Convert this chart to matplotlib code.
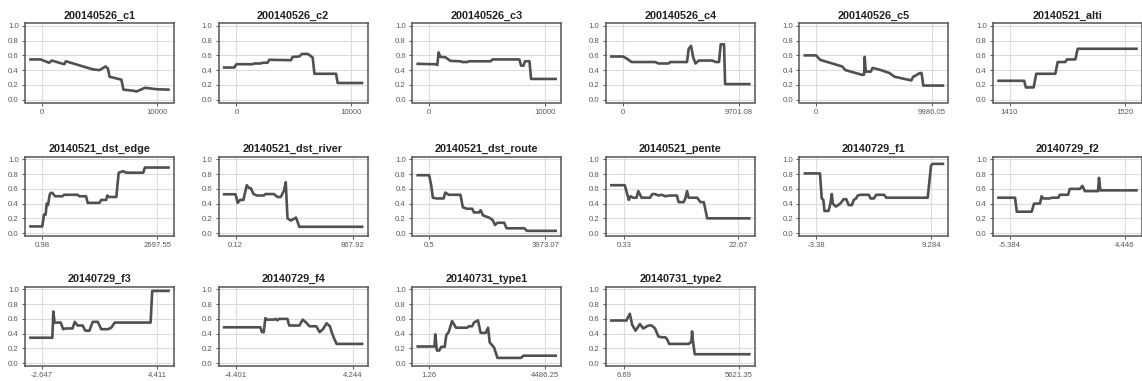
import matplotlib
matplotlib.use("Agg")
import matplotlib.pyplot as plt

plt.rcParams["font.family"] = ["Liberation Sans", "DejaVu Sans"]

TITLES = [
    "200140526_c1", "200140526_c2", "200140526_c3", "200140526_c4",
    "200140526_c5", "20140521_alti", "20140521_dst_edge", "20140521_dst_river",
    "20140521_dst_route", "20140521_pente", "20140729_f1", "20140729_f2",
    "20140729_f3", "20140729_f4", "20140731_type1", "20140731_type2",
]

# x tick values (low, high) and the labels printed for them
TICK_VALUES = [
    (0, 10000), (0, 10000), (0, 10000), (0, 9701.08), (0, 9986.05), (1410, 1520),
    (0.98, 2697.55), (0.12, 867.92), (0.5, 3973.07), (0.33, 22.67),
    (-3.38, 9.284), (-5.384, 4.446), (-2.647, 4.411), (-4.401, 4.244),
    (1.26, 4486.25), (6.69, 5621.35),
]
TICK_LABELS = [
    ("0", "10000"), ("0", "10000"), ("0", "10000"), ("0", "9701.08"),
    ("0", "9986.05"), ("1410", "1520"), ("0.98", "2697.55"), ("0.12", "867.92"),
    ("0.5", "3973.07"), ("0.33", "22.67"), ("-3.38", "9.284"), ("-5.384", "4.446"),
    ("-2.647", "4.411"), ("-4.401", "4.244"), ("1.26", "4486.25"), ("6.69", "5621.35"),
]

c1_x = [-970, -100, 640, 880, 1960, 2100, 4440, 5030, 5550, 5760, 5900, 6930, 7100,
        7950, 8250, 8980, 10000, 11020]
c1_y = [0.545, 0.545, 0.50, 0.53, 0.48, 0.52, 0.41, 0.40, 0.45, 0.42, 0.31, 0.27, 0.135,
        0.12, 0.11, 0.16, 0.14, 0.135]

c2_x = [-1080, -200, 0, 1400, 1550, 2130, 2270, 2710, 2860, 4750, 4900, 5480, 5710,
        6210, 6410, 6650, 6800, 8690, 8830, 10960]
c2_y = [0.435, 0.435, 0.48, 0.48, 0.49, 0.49, 0.50, 0.50, 0.54, 0.535, 0.58, 0.585, 0.62,
        0.62, 0.60, 0.57, 0.35, 0.35, 0.225, 0.225]

c3_x = [-990, 520, 700, 810, 960, 1390, 1830, 2700, 2840, 3280, 3420, 5300, 5450,
        7770, 7920, 8120, 8260, 8640, 8780, 10900]
c3_y = [0.485, 0.48, 0.47, 0.64, 0.58, 0.575, 0.525, 0.52, 0.51, 0.51, 0.52, 0.52, 0.545,
        0.545, 0.46, 0.46, 0.52, 0.52, 0.28, 0.28]

c4_x = [-990, 0, 370, 710, 2690, 2970, 3820, 3960, 5370, 5510, 5710, 5880, 6080, 6360,
        7490, 7780, 8060, 8200, 8480, 8570, 10600]
c4_y = [0.585, 0.585, 0.55, 0.51, 0.51, 0.49, 0.49, 0.51, 0.51, 0.69, 0.73, 0.58, 0.49,
        0.53, 0.53, 0.51, 0.51, 0.75, 0.75, 0.21, 0.21]

c5_x = [-960, 0, 350, 2250, 2540, 4000, 4150, 4200, 4290, 4730, 4880, 5610, 6340, 6770,
        8230, 8380, 8530, 8960, 9110, 9260, 10950]
c5_y = [0.60, 0.60, 0.54, 0.45, 0.40, 0.335, 0.34, 0.58, 0.38, 0.38, 0.43, 0.40, 0.36,
        0.31, 0.26, 0.31, 0.32, 0.36, 0.36, 0.19, 0.19]

alti_x = [1399.5, 1424.0, 1425.6, 1433.0, 1435.5, 1453.7, 1455.9, 1463.2, 1464.8,
          1472.8, 1475.0, 1531.1]
alti_y = [0.255, 0.255, 0.165, 0.165, 0.35, 0.35, 0.51, 0.51, 0.545, 0.545, 0.69, 0.69]

edge_x = [-275, 1, 40, 80, 103, 135, 174, 198, 238, 301, 474, 514, 829, 868, 1026, 1065,
          1341, 1381, 1499, 1523, 1562, 1736, 1791, 1893, 1972, 2366, 2406, 2958]
edge_y = [0.09, 0.09, 0.25, 0.25, 0.40, 0.38, 0.52, 0.545, 0.545, 0.50, 0.50, 0.52, 0.52,
          0.50, 0.50, 0.41, 0.41, 0.45, 0.45, 0.51, 0.49, 0.49, 0.82, 0.84, 0.82, 0.82,
          0.89, 0.89]

river_x = [-85, 0, 15, 33, 58, 83, 101, 113, 133, 159, 209, 221, 284, 310, 335, 360, 372,
           385, 410, 448, 473, 938]
river_y = [0.527, 0.527, 0.41, 0.45, 0.45, 0.65, 0.61, 0.61, 0.53, 0.51, 0.51, 0.53, 0.53,
           0.49, 0.49, 0.58, 0.69, 0.20, 0.17, 0.21, 0.085, 0.085]

route_x = [-391, 0.5, 70, 127, 265, 496, 553, 668, 1071, 1152, 1302, 1474, 1532, 1705,
           1762, 1843, 2050, 2165, 2257, 2338, 2568, 2649, 3259, 3340, 4330]
route_y = [0.786, 0.786, 0.65, 0.48, 0.47, 0.47, 0.55, 0.52, 0.52, 0.35, 0.33, 0.33, 0.28,
           0.28, 0.31, 0.24, 0.21, 0.18, 0.11, 0.14, 0.14, 0.065, 0.065, 0.03, 0.03]

pente_x = [-2.09, 0.53, 1.31, 1.64, 2.16, 2.82, 3.15, 3.80, 5.44, 5.90, 6.42, 7.08, 7.73,
           8.39, 9.37, 10.68, 11.01, 11.99, 12.32, 12.65, 12.97, 14.61, 15.27, 15.92,
           16.58, 24.77]
pente_y = [0.65, 0.65, 0.45, 0.50, 0.48, 0.48, 0.57, 0.48, 0.48, 0.53, 0.53, 0.51, 0.52,
           0.50, 0.51, 0.51, 0.42, 0.42, 0.47, 0.57, 0.48, 0.48, 0.42, 0.42, 0.20, 0.20]

f1_x = [-4.60, -2.94, -2.75, -2.57, -2.45, -2.01, -1.83, -1.64, -1.53, -1.20, -0.71,
        -0.34, -0.05, 0.21, 0.58, 0.77, 1.03, 1.21, 1.51, 2.43, 2.62, 2.99, 3.25, 4.10,
        4.36, 8.91, 9.28, 9.47, 10.58]
f1_y = [0.81, 0.81, 0.47, 0.45, 0.30, 0.30, 0.38, 0.53, 0.40, 0.36, 0.40, 0.46, 0.46,
        0.38, 0.38, 0.45, 0.47, 0.51, 0.52, 0.52, 0.47, 0.47, 0.52, 0.52, 0.48, 0.48,
        0.92, 0.94, 0.94]

f2_x = [-6.38, -4.96, -4.81, -3.53, -3.33, -2.82, -2.68, -2.54, -1.97, -1.82, -1.25,
        -1.11, -0.40, -0.26, 0.60, 0.83, 1.03, 2.17, 2.25, 2.37, 5.47]
f2_y = [0.48, 0.48, 0.29, 0.29, 0.40, 0.40, 0.50, 0.47, 0.47, 0.48, 0.48, 0.52, 0.52,
        0.60, 0.60, 0.64, 0.57, 0.57, 0.75, 0.58, 0.58]

f3_x = [-3.32, -1.99, -1.93, -1.85, -1.48, -1.33, -1.17, -0.76, -0.62, -0.45, -0.14,
        0.02, 0.27, 0.47, 0.78, 0.99, 1.40, 1.60, 1.81, 4.00, 4.10, 5.09]
f3_y = [0.344, 0.344, 0.70, 0.55, 0.55, 0.46, 0.47, 0.47, 0.56, 0.51, 0.51, 0.44, 0.44,
        0.56, 0.56, 0.46, 0.46, 0.48, 0.55, 0.55, 0.98, 0.98]

f4_x = [-5.25, -2.57, -2.45, -2.32, -2.20, -2.07, -1.57, -1.44, -1.32, -1.19, -0.57,
        -0.44, 0.31, 0.56, 0.81, 1.06, 1.56, 1.81, 2.06, 2.32, 2.57, 2.74, 2.89, 3.07, 4.95]
f4_y = [0.486, 0.486, 0.42, 0.42, 0.61, 0.59, 0.59, 0.60, 0.58, 0.60, 0.60, 0.51, 0.51,
        0.59, 0.55, 0.50, 0.50, 0.42, 0.46, 0.54, 0.50, 0.40, 0.33, 0.26, 0.26]

type1_x = [-441, 209, 235, 300, 391, 469, 599, 664, 755, 885, 1041, 1470, 1535, 1665,
           1730, 1886, 1990, 2185, 2276, 2341, 2510, 2640, 3550, 3641, 4889]
type1_y = [0.225, 0.225, 0.39, 0.17, 0.17, 0.22, 0.22, 0.38, 0.42, 0.57, 0.48, 0.48, 0.50,
           0.50, 0.55, 0.58, 0.41, 0.41, 0.48, 0.28, 0.21, 0.07, 0.07, 0.10, 0.10]

type2_x = [-602, 138, 303, 418, 583, 797, 962, 1209, 1373, 1538, 1703, 1867, 2032, 2114,
           2229, 3184, 3316, 3349, 3399, 3481, 6148]
type2_y = [0.578, 0.578, 0.67, 0.52, 0.44, 0.53, 0.47, 0.51, 0.51, 0.47, 0.36, 0.35, 0.35,
           0.33, 0.26, 0.26, 0.29, 0.43, 0.28, 0.12, 0.12]

SERIES = [
    (c1_x, c1_y), (c2_x, c2_y), (c3_x, c3_y), (c4_x, c4_y), (c5_x, c5_y),
    (alti_x, alti_y), (edge_x, edge_y), (river_x, river_y), (route_x, route_y),
    (pente_x, pente_y), (f1_x, f1_y), (f2_x, f2_y), (f3_x, f3_y), (f4_x, f4_y),
    (type1_x, type1_y), (type2_x, type2_y),
]

Y_TICKS = [0.0, 0.2, 0.4, 0.6, 0.8, 1.0]

W, H = 1142, 381
fig = plt.figure(figsize=(W / 100, H / 100), dpi=100)

line_color = "#505050"
frame_color = "#555555"
grid_color = "#dcdcdc"
row_tops = [23, 156.5, 286.5]

for i, (xs, ys) in enumerate(SERIES):
    row, col = divmod(i, 6)
    left = 25 + 193.6 * col
    top = row_tops[row]
    ax = fig.add_axes([left / W, 1 - (top + 79.5) / H, 149 / W, 79.5 / H])

    ax.plot(xs, ys, color=line_color, linewidth=1.9, solid_joinstyle="round")
    ax.margins(x=0.04)
    ax.set_ylim(-0.04, 1.04)

    ax.set_yticks(Y_TICKS)
    ax.set_yticklabels([f"{v:.1f}" for v in Y_TICKS])
    ax.set_xticks(list(TICK_VALUES[i]))
    ax.set_xticklabels(list(TICK_LABELS[i]))

    ax.grid(True, color=grid_color, linewidth=0.8)
    ax.set_axisbelow(True)
    ax.tick_params(direction="out", length=2.5, width=0.7, colors=frame_color,
                   labelsize=5.6, labelcolor="#5a5a5a", pad=2)
    for spine in ax.spines.values():
        spine.set_color(frame_color)
        spine.set_linewidth(1.1)

    # small inward ticks on the top and right side
    sec_y = ax.secondary_yaxis("right")
    sec_y.set_yticks(Y_TICKS)
    sec_y.tick_params(direction="in", length=2.5, width=0.7, colors=frame_color,
                      labelright=False)
    sec_x = ax.secondary_xaxis("top")
    sec_x.set_xticks(list(TICK_VALUES[i]))
    sec_x.tick_params(direction="in", length=2.5, width=0.7, colors=frame_color,
                      labeltop=False)
    for sec in (sec_x, sec_y):
        for spine in sec.spines.values():
            spine.set_visible(False)

    ax.set_title(TITLES[i], fontsize=7.8, fontweight="bold", color="#222222", pad=3)

fig.savefig("out.png", dpi=100)
plt.close(fig)
